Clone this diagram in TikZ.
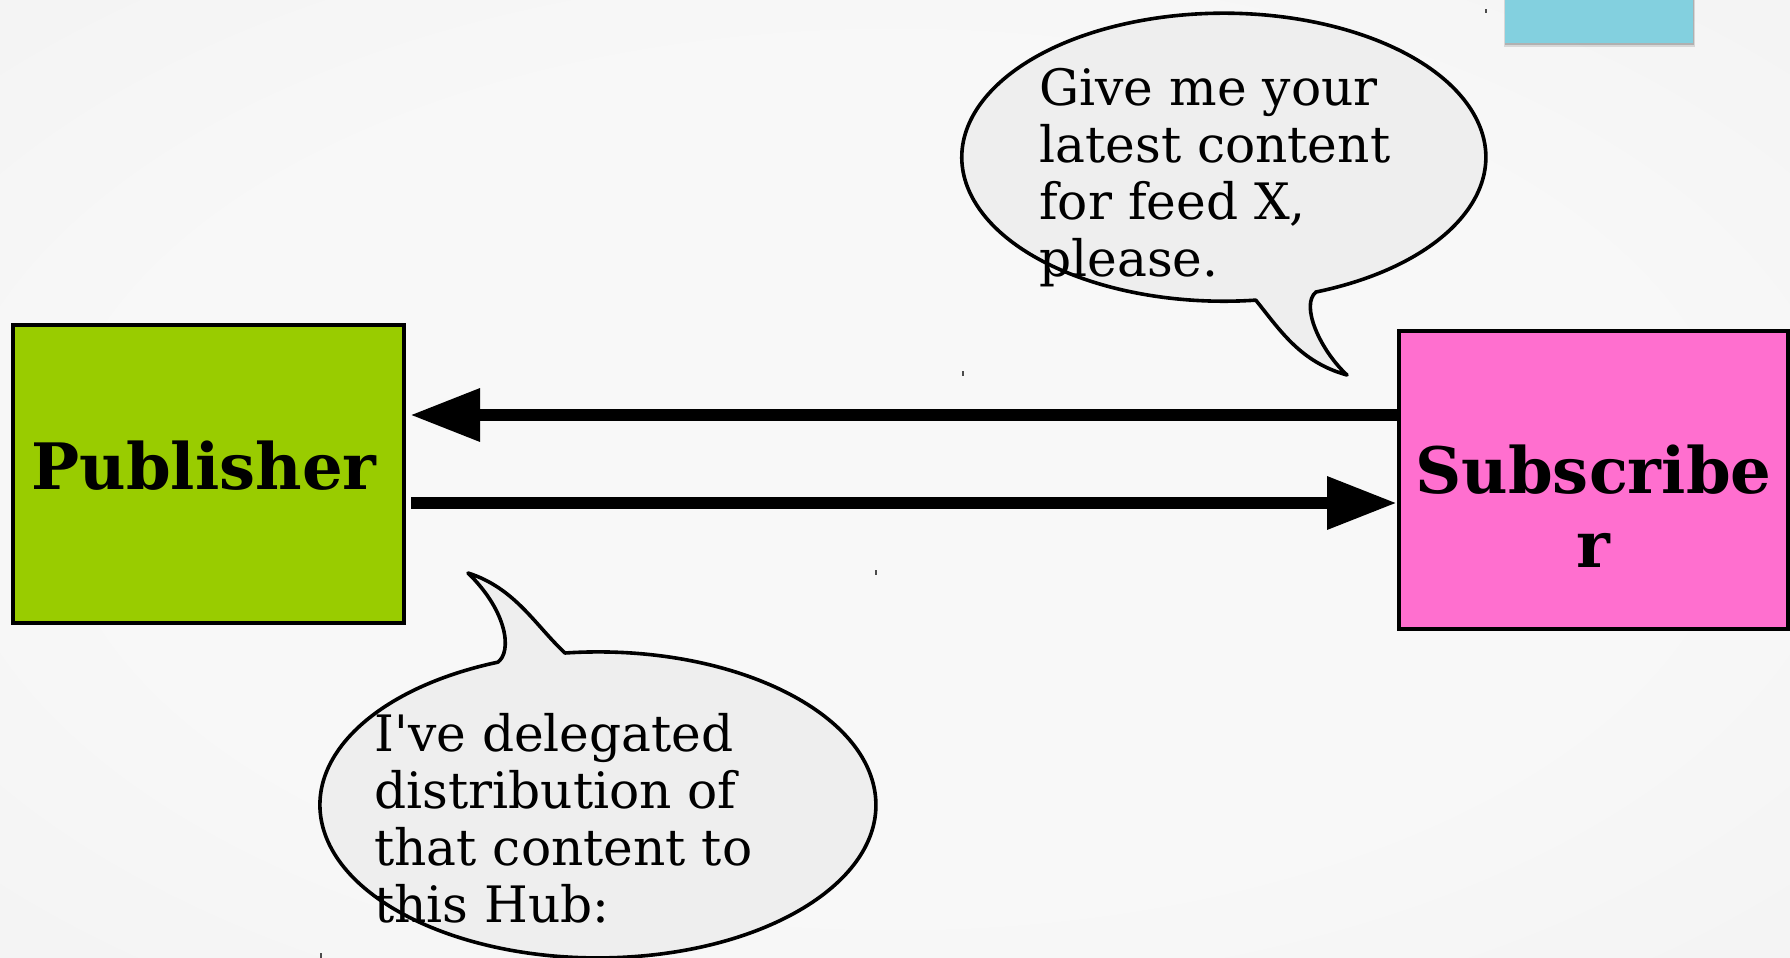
\documentclass[tikz,border=0pt]{standalone}
\usepackage{fontspec}
\setmainfont{DejaVu Serif}
\usetikzlibrary{arrows.meta}
\definecolor{pubgreen}{HTML}{99CC00}
\definecolor{subpink}{HTML}{FF6FCF}
\definecolor{hubcyan}{HTML}{83D0DF}
\definecolor{bubblefill}{HTML}{EEEEEE}
\definecolor{bgin}{HTML}{F8F8F8}
\definecolor{bgout}{HTML}{E8E8E8}
\pgfdeclareradialshading{bgshade}{\pgfpoint{0bp}{0bp}}{color(0bp)=(bgin); color(22bp)=(bgin); color(71bp)=(bgout)}
\tikzset{
  boxnode/.style={draw=black, line width=1.8pt, inner sep=0pt, outer sep=0pt},
  boxtext/.style={font=\bfseries\fontsize{32}{37}\selectfont, align=center, inner sep=0pt},
  bubble/.style={draw=black, line width=1.8pt, fill=bubblefill, line join=round},
  bubbletext/.style={anchor=north west, inner sep=0pt, align=left, font=\fontsize{25.1}{28.5}\selectfont},
  arrowline/.style={line width=6.4pt, -{Triangle[length=35pt,width=25pt]}},
  speck/.style={line width=0.6pt, black!70}
}
\begin{document}
\begin{tikzpicture}[x=0.5pt,y=-0.5pt]
\useasboundingbox (0,0) rectangle (1790,958);
\shade[shading=bgshade] (0,0) rectangle (1790,958);

% cyan box with soft shadow (top right)
\fill[black, opacity=0.12] (1504,-10) rectangle (1695,47);
\fill[black, opacity=0.18] (1505,-10) rectangle (1694,45);
\fill[hubcyan] (1505,-10) rectangle (1693,43);

% boxes
\node[boxnode, fill=pubgreen, minimum width=195.5pt, minimum height=149pt,
      label={[boxtext, yshift=4.15pt, xshift=-2.2pt]center:Publisher}] (pub) at (208.5,474) {};
\node[boxnode, fill=subpink, minimum width=194.5pt, minimum height=149pt,
      label={[boxtext, yshift=-12.85pt]center:Subscribe\\r}] (sub) at (1593.5,480) {};

% arrows
\coordinate (ytop) at (0,415);
\coordinate (ybot) at (0,503);
\draw[arrowline, shorten >=3pt] (sub.west |- ytop) -- (pub.east |- ytop);
\draw[arrowline, shorten <=3.5pt, shorten >=1pt] (pub.east |- ybot) -- (sub.west |- ybot);

% speech bubbles
\draw[bubble] (1316,292) arc[start angle=69.4, end angle=-277, x radius=262, y radius=144]
  .. controls (1280,330) and (1300,362) .. (1347,375)
  .. controls (1320,350) and (1300,305) .. (1316,292) -- cycle;
\draw[bubble] (565,653) arc[start angle=-96.8, end angle=248.9, x radius=278, y radius=153]
  .. controls (512,652) and (508,612) .. (468,573)
  .. controls (515,588) and (535,625) .. (565,653) -- cycle;

\node[bubbletext] (t1) at (1039,68) {Give me your\\latest content\\for feed X,\\please.};
\node[bubbletext] (t2) at (374,713) {I\textquotesingle ve delegated\\distribution of\\that content to\\this Hub:};

% tiny specks
\draw[speck] (963,371) -- (963,376);
\draw[speck] (876,570) -- (876,575);
\draw[speck] (1486,9) -- (1486,13);
\draw[speck] (321,953) -- (321,958);
\end{tikzpicture}
\end{document}
